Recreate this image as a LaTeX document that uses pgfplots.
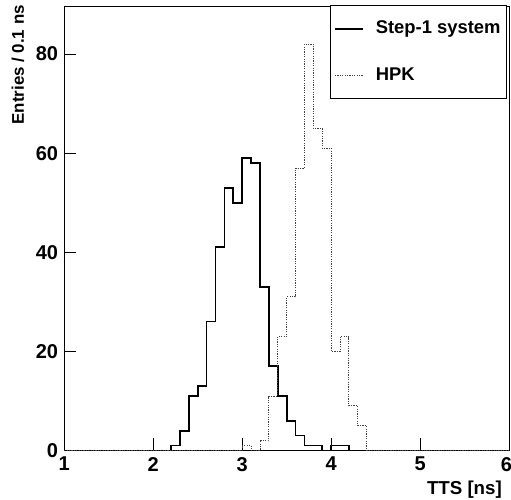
\documentclass[border=0pt]{standalone}
\usepackage{fontspec}
\setmainfont{Liberation Sans}
\usepackage{pgfplots}
\pgfplotsset{compat=1.18}
\begin{document}
\begin{tikzpicture}
\begin{axis}[
  name=ax,
  scale only axis,
  width=444.7bp, height=444.5bp,
  xmin=1, xmax=6, ymin=0, ymax=89.7,
  xtick={1,2,3,4,5,6}, ytick={0,20,40,60,80},
  xticklabels={1,2,3,4,5,\hbox to 0pt{\hss\kern-5bp 6\hss}},
  minor tick num=0,
  tick align=inside,
  xtick pos=left, ytick pos=left,
  major tick length=12bp,
  tick style={black, line width=0.5bp},
  axis line style={line width=0.8bp},
  /pgf/number format/assume math mode=true,
  tick label style={font=\fontsize{20bp}{24bp}\selectfont\bfseries},
  xticklabel style={inner sep=0pt, yshift=-6.5bp},
  yticklabel style={inner sep=0pt, xshift=-6bp},
  xlabel={TTS [ns]},
  ylabel={Entries / 0.1 ns},
  xlabel style={font=\fontsize{18.7bp}{22bp}\selectfont\bfseries, at={(axis description cs:1,0)}, anchor=base east, inner sep=0pt, yshift=-44.5bp, xshift=-7bp},
  ylabel style={font=\fontsize{16.9bp}{20bp}\selectfont\bfseries, at={([xshift=-40.3bp,yshift=1bp]axis description cs:0,1)}, anchor=base east, inner sep=0pt},
  legend image code/.code={\draw[#1] (0bp,0bp) -- (28bp,0bp);},
  legend cell align=left,
  legend style={at={(axis description cs:0.9955,1.002)}, anchor=north east, draw=black, line width=0.8bp, fill=white,
    inner xsep=4bp, inner ysep=12.5bp, row sep=25bp, column sep=10bp,
    nodes={inner sep=2bp, text height=13.5bp, text depth=4bp},
    font=\fontsize{18.4bp}{22bp}\selectfont\bfseries},
]
\addplot[const plot mark left, black, line width=1.7bp] coordinates {
 (1,0) (2.2,1) (2.3,4) (2.4,11) (2.5,13) (2.6,26) (2.7,41) (2.8,53) (2.9,50)
 (3.0,59) (3.1,58) (3.2,33) (3.3,17) (3.4,11) (3.5,6) (3.6,3) (3.7,1) (3.8,1)
 (3.9,0) (4.0,1) (4.1,1) (4.2,0) (6,0)
};
\addlegendentry{Step-1 system}
\addplot[const plot mark left, black!75, line width=0.9bp, dash pattern=on 1.2bp off 1.2bp] coordinates {
 (1,0) (3.0,1) (3.1,0) (3.2,2) (3.3,11) (3.4,23) (3.5,31) (3.6,57) (3.7,82)
 (3.8,65) (3.9,61) (4.0,20) (4.1,23) (4.2,9) (4.3,5) (4.4,0) (6,0)
};
\addlegendentry{HPK}
\end{axis}
\pgfresetboundingbox
\path ([xshift=-64.3bp,yshift=-49.5bp]ax.south west) rectangle ([xshift=2bp,yshift=6bp]ax.north east);
\end{tikzpicture}
\end{document}
